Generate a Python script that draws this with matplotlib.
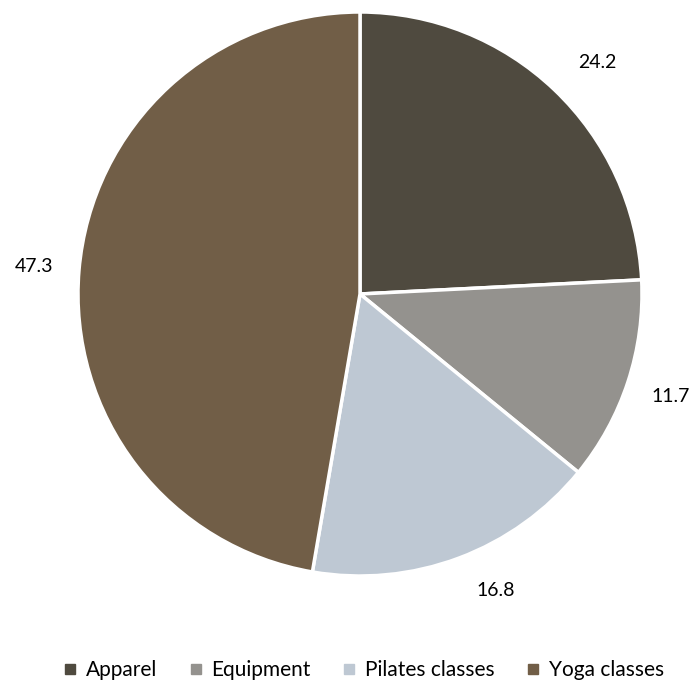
import matplotlib.pyplot as plt
from matplotlib.lines import Line2D

plt.rcParams['font.family'] = ['Lato', 'DejaVu Sans']

categories = ['Apparel', 'Equipment', 'Pilates classes', 'Yoga classes']
shares = [24.2, 11.7, 16.8, 47.3]
colors = ['#4f4a3f', '#94928e', '#bec8d3', '#715e47']

fig = plt.figure(figsize=(6.96, 6.84), dpi=100)
ax = fig.add_axes([78 / 696, 108 / 684, 564 / 696, 564 / 684])

wedges, texts = ax.pie(
    shares, colors=colors, labels=[f'{v:.1f}' for v in shares],
    startangle=90, counterclock=False, radius=1, labeldistance=1.16,
    wedgeprops=dict(edgecolor='white', linewidth=2.5),
    textprops=dict(fontsize=14, color='black'),
)
for t in texts:
    t.set_ha('center')
    t.set_va('center')
# small nudges so the value labels sit where they read best
texts[0].set_position((0.84, 0.82))
texts[2].set_position((0.48, -1.05))
ax.set_xlim(-1, 1)
ax.set_ylim(-1, 1)
ax.set_aspect('equal')
ax.axis('off')

handles = [Line2D([], [], marker='s', linestyle='none', markersize=7,
                  markerfacecolor=c, markeredgecolor=c) for c in colors]
fig.legend(handles, categories, loc='center', bbox_to_anchor=(0.522, 0.02),
           ncol=4, frameon=False, fontsize=15, handlelength=0.7,
           handletextpad=0.4, columnspacing=1.5)

fig.savefig('out.png', dpi=100)
